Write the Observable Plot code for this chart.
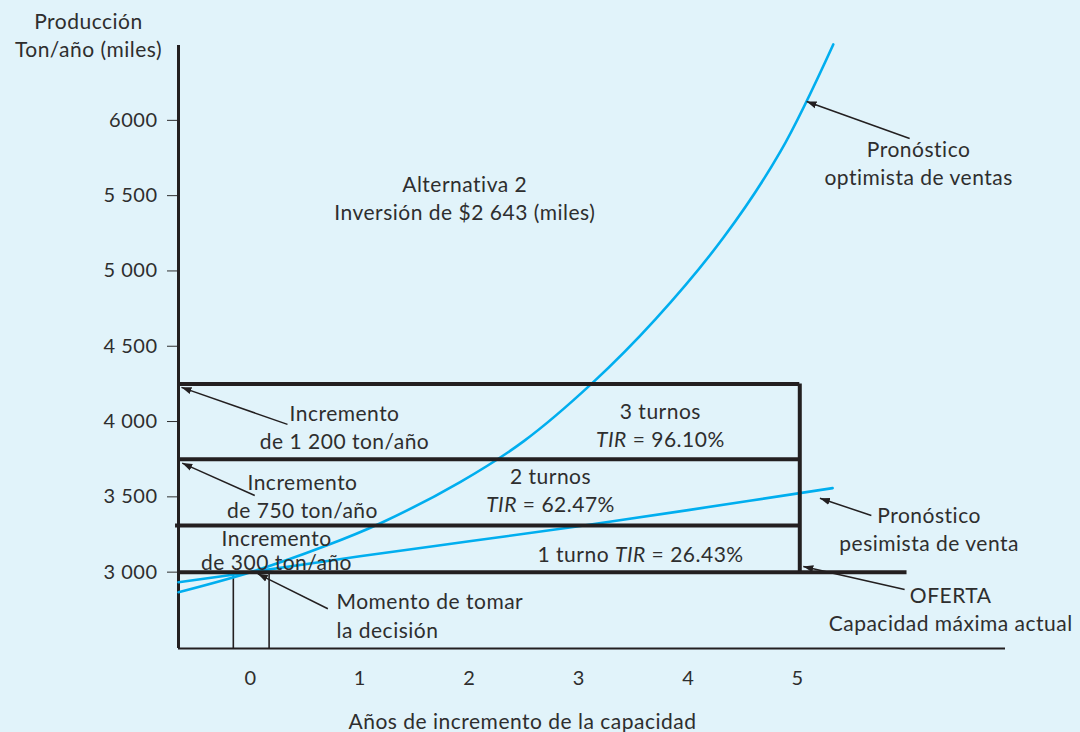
<!DOCTYPE html>
<html><head><meta charset="utf-8">
<script src="https://cdn.jsdelivr.net/npm/d3@7"></script>
<script src="https://cdn.jsdelivr.net/npm/@observablehq/plot@0.6"></script>
<style>
html,body{margin:0;padding:0;background:#e1f3fa;}
#chart svg{display:block;}
</style></head><body><div id="chart"></div>
<script>
// ---- data ----
const years = [0, 1, 2, 3, 4, 5];
const yTicks = [3000, 3500, 4000, 4500, 5000, 5500, 6000];
const yTickLabels = ["3 000", "3 500", "4 000", "4 500", "5 000", "5 500", "6000"];

// Pronóstico optimista de ventas (curve)
const optimistaX = [-0.658, 0, 0.67, 1.188, 1.92, 2.498, 3.123, 3.702, 4.326, 4.845, 5.326];
const optimistaY = [2867, 3000, 3170, 3325, 3600, 3870, 4255, 4680, 5225, 5795, 6504];

// Pronóstico pesimista de venta
const pesimistaX = [-0.658, 0, 1, 2, 3, 4, 5.32];
const pesimistaY = [2933, 3000, 3105, 3205, 3305, 3412, 3558];

// Capacity levels (OFERTA, +300, +750, +1200 ton/año)
const oferta = 3000;
const nivelesTurnos = [3310, 3750, 4250];
const finTurnos = 5.02;      // horizon (year 5)
const finOferta = 6.0;
const decisionX = [-0.157, 0.17];  // small "momento de decisión" box

const xDomain = [-0.658, 6.90];
const yDomain = [2493, 6497];

// arrows: start (label side) -> tip
const flechas = [
  {x1: 6.024, y1: 5880, x2: 5.082, y2: 6125},
  {x1: 0.338, y1: 3981, x2: -0.631, y2: 4227},
  {x1: 0.039, y1: 3509, x2: -0.624, y2: 3724},
  {x1: 0.707, y1: 2757, x2: 0.067, y2: 2989},
  {x1: 5.674, y1: 3376, x2: 5.204, y2: 3491},
  {x1: 5.978, y1: 2885, x2: 5.052, y2: 3038}
];

// annotations
const textosCentro = [
  {x: -1.481, y: 6570, t: "Producción\nTon/año (miles)"},
  {x: 1.958, y: 5491, t: "Alternativa 2\nInversión de $2 643 (miles)"},
  {x: 6.106, y: 5725, t: "Pronóstico\noptimista de ventas"},
  {x: 0.859, y: 3969, t: "Incremento\nde 1 200 ton/año"},
  {x: 0.475, y: 3511, t: "Incremento\nde 750 ton/año"},
  {x: 3.746, y: 3981, t: "3 turnos\nTIR = 96.10%"},
  {x: 2.742, y: 3549, t: "2 turnos\nTIR = 62.47%"},
  {x: 3.565, y: 3126, t: "1 turno TIR = 26.43%"},
  {x: 6.202, y: 3293, t: "Pronóstico\npesimista de venta"},
  {x: 6.399, y: 2762, t: "OFERTA\nCapacidad máxima actual"},
  {x: 2.486, y: 2015, t: "Años de incremento de la capacidad"}
];
const textosApretados = [
  {x: 0.238, y: 3146, t: "Incremento\nde 300 ton/año"}
];
const textosIzq = [
  {x: 0.786, y: 2722, t: "Momento de tomar\nla decisión"}
];

// ---- drawing ----
const INK = "#231f20";
const BLUE = "#00aeef";
const TXT = "#2e2e2e";
const FS = 21;

function arrowHead(color) {
  const ns = "http://www.w3.org/2000/svg";
  const m = document.createElementNS(ns, "marker");
  m.setAttribute("viewBox", "-10 -5 10 10");
  m.setAttribute("markerWidth", 10);
  m.setAttribute("markerHeight", 10);
  m.setAttribute("markerUnits", "userSpaceOnUse");
  m.setAttribute("orient", "auto");
  m.setAttribute("refX", 0);
  m.setAttribute("refY", 0);
  const p = document.createElementNS(ns, "path");
  p.setAttribute("d", "M0,0L-10,-3.6L-10,3.6Z");
  p.setAttribute("fill", color);
  p.setAttribute("stroke", "none");
  m.appendChild(p);
  return m;
}

const opt = optimistaX.map((x, i) => ({x, y: optimistaY[i]}));
const pes = pesimistaX.map((x, i) => ({x, y: pesimistaY[i]}));

const chart = Plot.plot({
  width: 1080,
  height: 732,
  marginLeft: 178,
  marginRight: 75,
  marginTop: 45,
  marginBottom: 84,
  style: {background: "#e1f3fa", color: TXT, fontFamily: "Lato, sans-serif", fontSize: "20px", letterSpacing: "0.5px", overflow: "visible"},
  x: {domain: xDomain, ticks: years, tickSize: 0, tickPadding: 22, label: null},
  y: {domain: yDomain, ticks: yTicks, tickFormat: d => yTickLabels[yTicks.indexOf(d)], tickSize: 11, tickPadding: 10, label: null},
  marks: [
    // frame lines
    Plot.ruleX([xDomain[0]], {y1: yDomain[0], y2: yDomain[1], stroke: INK, strokeWidth: 3}),
    Plot.ruleY([yDomain[0]], {x1: xDomain[0], x2: xDomain[1], stroke: INK, strokeWidth: 2}),
    // decision box
    Plot.ruleX(decisionX, {y1: yDomain[0], y2: oferta, stroke: INK, strokeWidth: 1.6}),
    // forecast curves
    Plot.line(pes, {x: "x", y: "y", stroke: BLUE, strokeWidth: 2.6, curve: "catmull-rom"}),
    Plot.line(opt, {x: "x", y: "y", stroke: BLUE, strokeWidth: 2.6, curve: "catmull-rom"}),
    // capacity levels
    Plot.ruleY([oferta], {x1: xDomain[0], x2: finOferta, stroke: INK, strokeWidth: 4}),
    Plot.ruleY(nivelesTurnos, {x1: (d, i) => i === 0 ? -0.685 : xDomain[0], x2: finTurnos, stroke: INK, strokeWidth: 4}),
    Plot.ruleX([finTurnos], {y1: oferta, y2: nivelesTurnos[2], stroke: INK, strokeWidth: 4}),
    // arrows
    Plot.link(flechas, {x1: "x1", y1: "y1", x2: "x2", y2: "y2", stroke: INK, strokeWidth: 1.5, markerEnd: arrowHead}),
    // labels
    Plot.text(textosCentro, {x: "x", y: "y", text: "t", fill: TXT, fontSize: FS, lineHeight: 28 / FS, textAnchor: "middle", lineAnchor: "middle"}),
    Plot.text(textosApretados, {x: "x", y: "y", text: "t", fill: TXT, fontSize: FS, lineHeight: 24 / FS, textAnchor: "middle", lineAnchor: "middle"}),
    Plot.text(textosIzq, {x: "x", y: "y", text: "t", fill: TXT, fontSize: FS, lineHeight: 29 / FS, textAnchor: "start", lineAnchor: "middle"})
  ]
});

// italicise "TIR"
chart.querySelectorAll("text, tspan").forEach(el => {
  if (el.children.length === 0 && el.textContent.includes("TIR")) {
    const t = el.textContent;
    const k = t.indexOf("TIR");
    el.textContent = "";
    el.appendChild(document.createTextNode(t.slice(0, k)));
    const it = document.createElementNS("http://www.w3.org/2000/svg", "tspan");
    it.setAttribute("font-style", "italic");
    it.textContent = "TIR";
    el.appendChild(it);
    el.appendChild(document.createTextNode(t.slice(k + 3)));
  }
});

document.getElementById("chart").appendChild(chart);
</script>
</body></html>
